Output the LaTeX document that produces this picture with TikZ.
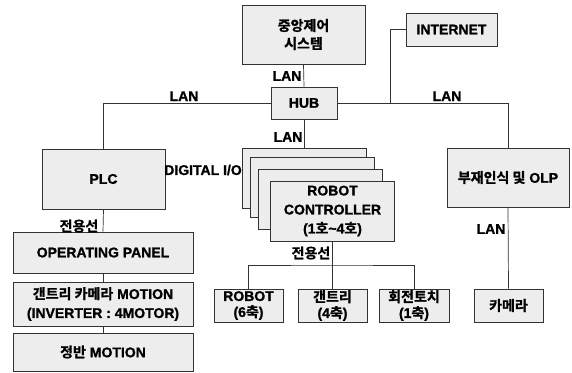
\documentclass[tikz,border=0pt]{standalone}
\usepackage{fontspec}
\setmainfont{Liberation Sans}[UprightFont={* Bold}, UprightFeatures={FakeBold=1.2}]
\newfontfamily\krfont{Noto Sans CJK KR}[UprightFont={* Bold}, UprightFeatures={FakeBold=1.2}]
\newcommand{\ko}[1]{{\krfont #1}}
\usetikzlibrary{positioning}

\begin{document}
\begin{tikzpicture}[x=1pt, y=-1pt,
  font=\fontsize{14}{19}\selectfont,
  blk/.style 2 args={draw=black!80, line width=0.7pt, fill=black!7, align=center,
    inner sep=0pt, minimum width=#1, minimum height=#2},
  lbl/.style={inner sep=0pt},
  wire/.style={draw=black!80, line width=0.7pt}]
  \useasboundingbox (0,0) rectangle (572,372);
  % Upper level
  \node[blk={123}{59}] (ctrlsys) at (303.5,34.5) {\ko{중앙제어}\\[-1pt]\ko{시스템}};
  \node[blk={91}{33}] (inet) at (451.5,29.5) {INTERNET};
  \node[blk={66}{32}] (hub) at (304,103) {HUB};
  % Second level
  \node[blk={123}{60}] (plc) at (103.5,179) {PLC};
  \node[blk={122}{59}] (olp) at (508,177.5) {\ko{부재인식 및} OLP};
  % stacked controllers, front one last
  \foreach \i/\x/\y in {1/304/178, 2/312.5/187.5, 3/320.5/199.5}
    \node[blk={124}{60}] (ctrl\i) at (\x,\y) {};
  \node[blk={124}{60}] (ctrl4) at (332.5,211)
    {ROBOT\\CONTROLLER\\(1\ko{호}\textasciitilde 4\ko{호})};
  % Left column
  \node[blk={180}{41}] (panel) at (103,252.5) {OPERATING PANEL};
  \node[blk={180}{44}] (gcam) at (103,304) {\ko{갠트리 카메라} MOTION\\(INVERTER : 4MOTOR)};
  \node[blk={180}{38}] (plate) at (103,352) {\ko{정반} MOTION};
  % Axes boxes
  \begin{scope}[font=\fontsize{14}{16}\selectfont]
    \node[blk={69}{33}] (robot) at (248.5,305.5) {ROBOT\\(6\ko{축})};
    \node[blk={69}{33}] (gantry) at (332.5,305.5) {\ko{갠트리}\\(4\ko{축})};
    \node[blk={70}{33}] (torch) at (414,305.5) {\ko{회전토치}\\(1\ko{축})};
  \end{scope}
  \node[blk={69}{33}] (cam) at (508.5,305.5) {\ko{카메라}};
  % Connectors
  \draw[wire] (ctrlsys.south) -- (hub.north);
  \draw[wire] (hub.west) -| (plc.north);
  \draw[wire] (hub.east) -| (olp.north);
  \coordinate (inetjn) at (390,103);
  \draw[wire] (inetjn) |- (inet.west);
  \draw[wire] (hub.south) -- (ctrl1.north);
  \draw[wire] (plc.south) -- (panel.north);
  \draw[wire] (panel.south) -- (gcam.north);
  \draw[wire] (gcam.south) -- (plate.north);
  \coordinate (bus) at (332.5,265);
  \draw[wire] (ctrl4.south) -- (gantry.north);
  \draw[wire] (robot.north) |- (bus) -| (torch.north);
  \draw[wire] (olp.south) -- (cam.north);
  % Labels
  \node[lbl] (lan1) at (287,76) {LAN};
  \node[lbl, anchor=base] (lan2) at (184,101) {LAN};
  \node[lbl, anchor=base] (lan3) at (447,101) {LAN};
  \node[lbl] (lan4) at (288,137) {LAN};
  \node[lbl] (lan5) at (491,229) {LAN};
  \node[lbl] (dio) at (203,170) {DIGITAL I/O};
  \node[lbl] (ded1) at (79,226) {\ko{전용선}};
  \node[lbl] (ded2) at (311,253) {\ko{전용선}};
\end{tikzpicture}
\end{document}
